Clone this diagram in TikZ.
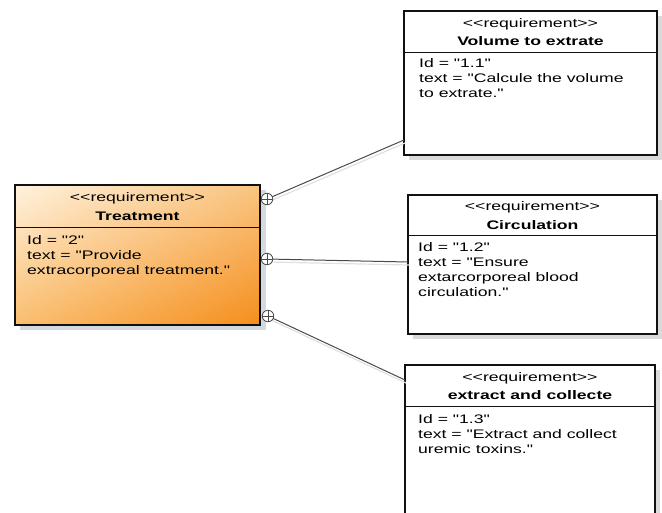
\documentclass[tikz,border=0pt]{standalone}
\usepackage{fontspec}
\setmainfont{Liberation Sans}[FakeStretch=1.42, Ligatures=TeXOff]
\usetikzlibrary{shadows,shadings}

\definecolor{frame}{HTML}{111111}
\definecolor{wire}{HTML}{4A4A4A}
\definecolor{wireshade}{HTML}{E0E0E0}
\definecolor{boxshade}{HTML}{DADADA}
\definecolor{tshade}{HTML}{D3D9E0}
\definecolor{tUL}{HTML}{FFF2DE}
\definecolor{tUR}{HTML}{F9C480}
\definecolor{tLL}{HTML}{FABE70}
\definecolor{tLR}{HTML}{F58E1C}

\tikzset{
  req/.style={draw=frame, line width=1.8pt, fill=white, rectangle, anchor=north west,
    inner sep=0pt, outer sep=0pt,
    drop shadow={shadow xshift=5pt, shadow yshift=-5pt, fill=boxshade, opacity=1}},
  stereo/.style={anchor=base, inner sep=0pt, font=\fontsize{12.4}{15}\selectfont},
  reqname/.style={anchor=base, inner sep=0pt, font=\fontsize{12.4}{15}\selectfont\bfseries},
  body/.style={anchor=north west, align=left, inner sep=0pt, font=\fontsize{12.4}{15}\selectfont},
  divider/.style={draw=frame, line width=0.9pt},
  port/.style={circle, draw=wire, fill=white, line width=0.8pt, minimum size=11.5pt,
    inner sep=0pt,
    path picture={\draw[wire, line width=0.8pt]
      (path picture bounding box.north) -- (path picture bounding box.south)
      (path picture bounding box.west) -- (path picture bounding box.east);}},
  link/.style={draw=wire, line width=1pt,
    preaction={draw=wireshade, line width=1.2pt, transform canvas={xshift=1pt, yshift=-3pt}}}
}

\begin{document}
\begin{tikzpicture}[x=1pt, y=-1pt]
\useasboundingbox (0,0) rectangle (662,512);
\clip (0,0) rectangle (662,512);

% parent requirement with orange gradient
\node[req, minimum width=245pt, minimum height=140pt,
  drop shadow={shadow xshift=6pt, shadow yshift=-5pt, fill=tshade, opacity=1}] (T) at (15,185) {};
\shade[upper left=tUL, upper right=tUR, lower left=tLL, lower right=tLR]
  (T.north west) rectangle (T.south east);
\draw[draw=frame, line width=1.8pt] (T.north west) rectangle (T.south east);
\draw[divider] ([yshift=-42pt]T.north west) -- ([yshift=-42pt]T.north east);
\node[stereo] (T-st) at ([yshift=-16.5pt]T.north) {<<requirement>>};
\node[reqname] (T-nm) at ([yshift=-35pt]T.north) {Treatment};
\node[body] (T-bd) at (27,235) {Id = "2"\\text = "Provide\\extracorporeal treatment."};

% child requirements
\node[req, minimum width=253pt, minimum height=144pt] (V) at (404,11) {};
\draw[divider] ([yshift=-41pt]V.north west) -- ([yshift=-41pt]V.north east);
\node[stereo] (V-st) at ([yshift=-16pt]V.north) {<<requirement>>};
\node[reqname] (V-nm) at ([yshift=-34pt]V.north) {Volume to extrate};
\node[body] (V-bd) at (419,58) {Id = "1.1"\\text = "Calcule the volume\\to extrate."};

\node[req, minimum width=249pt, minimum height=139pt] (C) at (408,195) {};
\draw[divider] ([yshift=-40pt]C.north west) -- ([yshift=-40pt]C.north east);
\node[stereo] (C-st) at ([yshift=-15.5pt]C.north) {<<requirement>>};
\node[reqname] (C-nm) at ([yshift=-34pt]C.north) {Circulation};
\node[body] (C-bd) at (418,242) {Id = "1.2"\\text = "Ensure\\extarcorporeal blood\\circulation."};

\node[req, minimum width=250pt, minimum height=170pt] (E) at (405,365) {};
\draw[divider] ([yshift=-41pt]E.north west) -- ([yshift=-41pt]E.north east);
\node[stereo] (E-st) at ([yshift=-16.5pt]E.north) {<<requirement>>};
\node[reqname] (E-nm) at ([yshift=-34pt]E.north) {extract and collecte};
\node[body] (E-bd) at (418,414) {Id = "1.3"\\text = "Extract and collect\\uremic toxins."};

% containment links, drawn beneath the port circles
\coordinate (p1c) at (267,199);
\coordinate (p2c) at (267,259);
\coordinate (p3c) at (268,316);
\coordinate (v-in) at (404,140);
\coordinate (c-in) at (408,262);
\coordinate (e-in) at (405,380);
\draw[link] (p1c) -- (v-in);
\draw[link] (p2c) -- (c-in);
\draw[link] (p3c) -- (e-in);
\node[port] (p1) at (p1c) {};
\node[port] (p2) at (p2c) {};
\node[port] (p3) at (p3c) {};
\end{tikzpicture}
\end{document}
